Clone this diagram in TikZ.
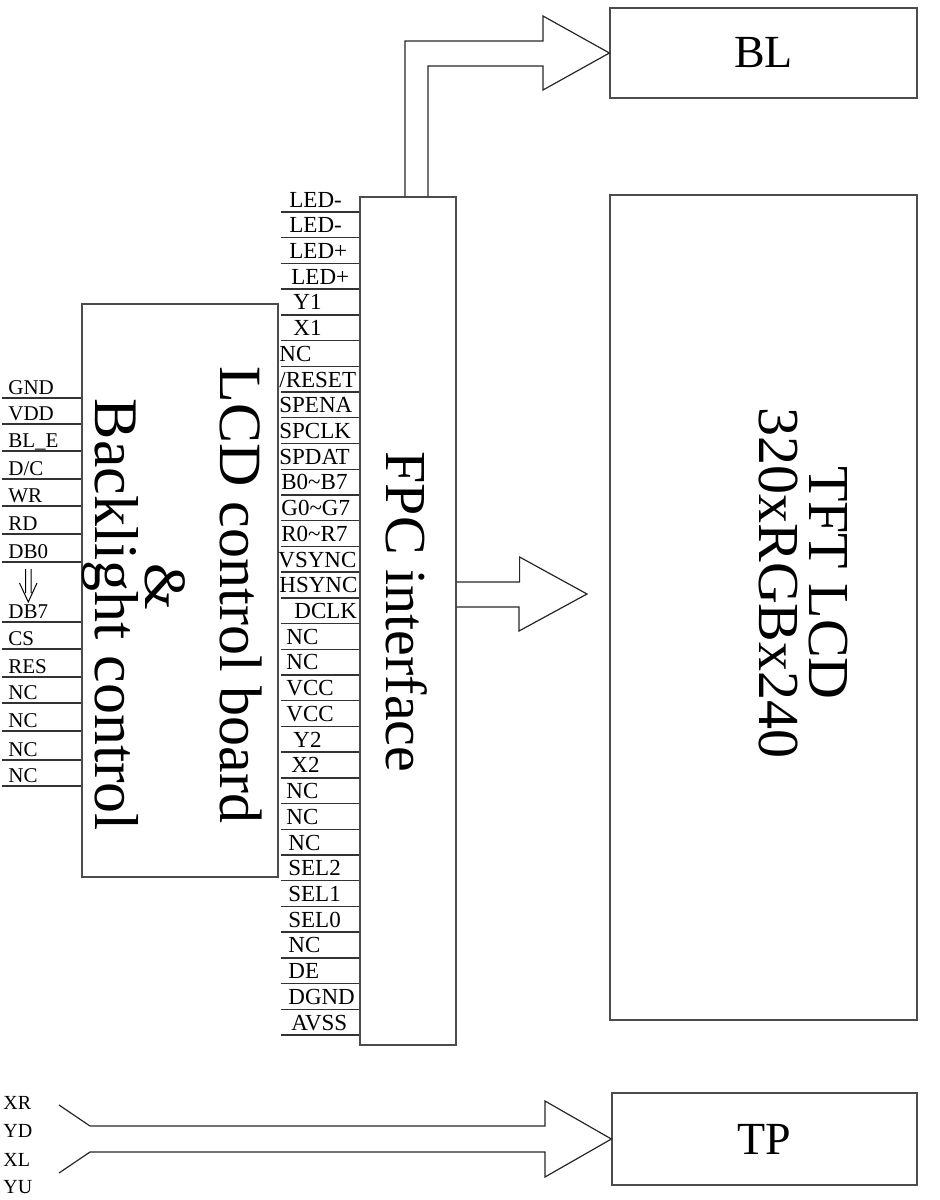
\documentclass[tikz,border=0pt]{standalone}
\usepackage{fontspec}
\setmainfont{Liberation Serif}
\usetikzlibrary{calc}

\begin{document}
\begin{tikzpicture}[
    x=0.5pt, y=-0.5pt,
    blk/.style={draw=black!70, line width=0.6pt, inner sep=0pt},
    pinr/.style={font=\fontsize{11.5}{12}\selectfont, anchor=base west,
                 inner sep=0pt},
    pinl/.style={font=\fontsize{10.5}{12}\selectfont, anchor=base west,
                 inner sep=0pt},
    tplab/.style={font=\fontsize{10}{12}\selectfont, anchor=west,
                  inner sep=0pt},
    big/.style={font=\fontsize{30}{34}\selectfont, rotate=-90, inner sep=0pt},
    pinline/.style={draw=black!80, line width=0.7pt},
    hollow/.style={draw=black!85, line width=0.6pt, line join=miter}
  ]
  \useasboundingbox (0,0) rectangle (939,1200);

  % Blocks
  \node[blk, minimum width=153.5pt, minimum height=45pt] (bl) at (763.5,53)
    {\fontsize{23}{26}\selectfont BL};
  \node[blk, minimum width=153.5pt, minimum height=412.5pt] (tft)
    at (763.5,607.5) {};
  \node[blk, minimum width=48pt, minimum height=424pt] (fpc) at (408,621) {};
  \node[blk, minimum width=98pt, minimum height=286.5pt] (lcd)
    at (180,590.5) {};
  \node[blk, minimum width=152.5pt, minimum height=46pt] (tp) at (764.5,1139)
    {\fontsize{23}{26}\selectfont TP};

  % Block titles
  \node[big, align=center, font=\fontsize{29}{25}\selectfont] (tftname)
    at (803,583) {TFT LCD\\320xRGBx240};
  \node[big, font=\fontsize{29}{34}\selectfont] (fpcname) at (407,612)
    {FPC interface};
  \node[big] (lcdname) at (241,595) {LCD control board};
  \node[big] (ampname) at (165,587) {\&};
  \node[big, font=\fontsize{31}{34}\selectfont] (blname) at (110,615)
    {Backlight control};

  % FPC pins
  \foreach \lab/\dx [count=\i from 0] in {LED-/289, LED-/289, LED+/289,
      LED+/291, Y1/293, X1/293, NC/279, {/RESET}/279, SPENA/279, SPCLK/279,
      SPDAT/279, B0\textasciitilde B7/281, G0\textasciitilde G7/281,
      R0\textasciitilde R7/281, VSYNC/278, HSYNC/279, DCLK/294, NC/286,
      NC/286, VCC/286, VCC/286, Y2/293, X2/291, NC/286, NC/286, NC/288,
      SEL2/288, SEL1/288, SEL0/288, NC/288, DE/288, DGND/288, AVSS/291} {
    \pgfmathsetmacro\py{212+25.72*\i}
    \coordinate (pr\i) at (281,\py);
    \draw[pinline] (pr\i) -- (pr\i -| fpc.west);
    \node[pinr] (prl\i) at (\dx,\py-5) {\lab};
  }

  % Host pins
  \foreach \lab/\py [count=\i] in {GND/398, VDD/424, BL\_E/451, {D/C}/479,
      WR/506, RD/534, DB0/562, DB7/622, CS/649, RES/677, NC/703, NC/731,
      NC/760, NC/786} {
    \coordinate (pl\i) at (2,\py);
    \draw[pinline] (pl\i) -- (pl\i -| lcd.west);
    \node[pinl] (pll\i) at (8,\py-4) {\lab};
  }
  % DB0 ... DB7
  \draw[line width=0.5pt] (25.5,569) -- (25.5,593) (31,569) -- (31,593)
    (19.5,583) -- (28.3,602) -- (37,583);

  % Touch panel lines
  \foreach \lab/\py [count=\i] in {XR/1103, YD/1131, XL/1160, YU/1187}
    \node[tplab] (tpl\i) at (3,\py) {\lab};

  % Hollow arrows
  \draw[hollow] ($(fpc.north)+(-3,0)$) |- (543,41) -- (543,16) -- (bl.west)
    -- (543,90) -- (543,66) -| ($(fpc.north)+(20,0)$);
  \draw[hollow] ($(fpc.east)+(0,-39)$) -- ++(63,0) -- ++(0,-25) -- (587,594)
    -- (519,631) -- (519,607) -- ($(fpc.east)+(0,-14)$);
  \draw[hollow] (59,1105) -- (90,1126) -- (545,1126) -- (545,1101)
    -- (tp.west) -- (545,1177) -- (545,1152) -- (90,1152) -- (59,1173);

\end{tikzpicture}
\end{document}
